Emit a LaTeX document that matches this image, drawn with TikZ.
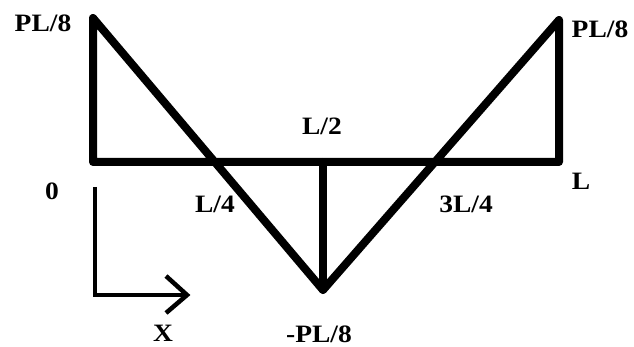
\documentclass[tikz,border=0pt]{standalone}
\usepackage{fontspec}
\setmainfont{Liberation Serif}
\begin{document}
\begin{tikzpicture}[x=1pt,y=-1pt,
  beam/.style={line width=8pt,line join=round,line cap=round},
  axisline/.style={line width=4.5pt,line join=miter},
  lbl/.style={anchor=base,inner sep=0pt,font=\bfseries\fontsize{25}{30}\selectfont,xscale=1.1}]
\useasboundingbox (0,0) rectangle (634,347);
% key points
\coordinate (O) at (93,162);
\coordinate (TL) at (93,18);
\coordinate (B) at (323,290);
\coordinate (M) at (323,162);
\coordinate (TR) at (559,20);
\coordinate (E) at (559,162);
% moment diagram
\draw[beam] (O) -- (TL) -- (B) -- (TR) -- (E) -- (O);
\draw[beam] (M) -- (B);
% x axis indicator
\coordinate (A0) at (95,187);
\coordinate (A1) at (95,295);
\coordinate (A2) at (187,295);
\coordinate (H1) at (166,276);
\coordinate (H2) at (166,313);
\draw[axisline] (A0) -- (A1) -- (A2);
\draw[axisline,line join=miter] (H1) -- (A2) -- (H2);
% labels
\node[lbl] (pl1) at (43,32) {PL/8};
\node[lbl] (pl2) at (600,38) {PL/8};
\node[lbl] (l2) at (322,135) {L/2};
\node[lbl] (z) at (52,200) {0};
\node[lbl] (l4) at (215,213) {L/4};
\node[lbl] (l) at (581,190) {L};
\node[lbl] (l34) at (466,213) {3L/4};
\node[lbl] (mpl) at (319,342) {-PL/8};
\node[lbl] (x) at (163,341) {X};
\end{tikzpicture}
\end{document}
